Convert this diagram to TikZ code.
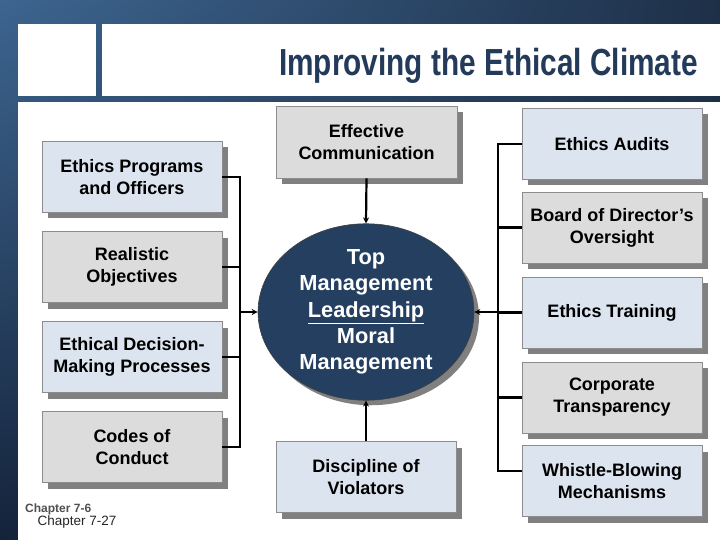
\documentclass[tikz,border=0pt]{standalone}
\usepackage{fontspec}
\setmainfont{Liberation Sans}
\usetikzlibrary{shadows,shadings,shapes.geometric,arrows.meta}
\definecolor{bgA}{HTML}{3D6590}
\definecolor{bgB}{HTML}{1E3048}
\definecolor{bgC}{HTML}{14233A}
\definecolor{titlecol}{HTML}{243A5A}
\definecolor{navy}{HTML}{243F60}
\definecolor{lightblue}{HTML}{DCE4EF}
\definecolor{lightgrey}{HTML}{DCDCDC}
\definecolor{boxborder}{HTML}{8C8C8C}
\definecolor{shadowgray}{HTML}{808080}
\definecolor{chapgray}{HTML}{505050}
\tikzset{
  boxstyle/.style={draw=boxborder, line width=0.8pt, minimum width=180pt, minimum height=71pt,
    align=center, inner sep=0pt, font=\fontsize{18}{22}\selectfont\bfseries,
    drop shadow={shadow xshift=6pt, shadow yshift=-6pt, opacity=1, fill=shadowgray}},
  bluebox/.style={boxstyle, fill=lightblue},
  greybox/.style={boxstyle, fill=lightgrey},
  conn/.style={line width=2.2pt, draw=black},
  arr/.style={-{Stealth[length=6pt,width=6pt]}}
}
\begin{document}
\begin{tikzpicture}[x=1pt,y=-1pt]
\useasboundingbox (0,0) rectangle (720,540);
\shade[upper left=bgA, upper right=bgB, lower left=bgC, lower right=bgB] (0,0) rectangle (720,540);
\fill[white] (18,24) rectangle (96,96);
\fill[white] (102,24) rectangle (720,96);
\fill[white] (18,102) rectangle (720,540);

\node[anchor=base east, inner sep=0pt, text=titlecol] (title) at (698,76)
  {\scalebox{0.79}[1]{\fontsize{37.7}{40}\selectfont\bfseries Improving the Ethical Climate}};

% left column
\node[bluebox] (l1) at (132,177) {Ethics Programs\\and Officers};
\node[greybox] (l2) at (132,267) {Realistic\\Objectives};
\node[bluebox] (l3) at (132,357) {Ethical Decision-\\Making Processes};
\node[greybox] (l4) at (132,447) {Codes of\\Conduct};

% centre column
\node[greybox, minimum width=181pt, minimum height=72pt] (eff) at (366.5,142) {Effective\\Communication};
\node[bluebox] (disc) at (366,477) {Discipline of\\Violators};
\node[ellipse, draw=black!75, line width=0.6pt, fill=navy, minimum width=216pt, minimum height=175pt,
  inner sep=0pt, text=white, align=center, font=\fontsize{21.8}{26.3}\selectfont\bfseries,
  drop shadow={shadow xshift=5pt, shadow yshift=-5pt, opacity=1, fill=shadowgray}] (ell) at (366,312)
  {Top\\Management\\\underline{Leadership}\\Moral\\Management};

% right column
\node[bluebox] (r1) at (612,144) {Ethics Audits};
\node[greybox] (r2) at (612,227.5) {Board of Director’s\\Oversight};
\node[bluebox] (r3) at (612,312.5) {Ethics Training};
\node[greybox] (r4) at (612,397.5) {Corporate\\Transparency};
\node[bluebox] (r5) at (612,481) {Whistle-Blowing\\Mechanisms};

% connectors
\coordinate (lj) at (240,312);
\coordinate (rj) at (498,312);
\foreach \n in {l1,l2,l3,l4} \draw[conn] (\n.east) -| (lj);
\draw[conn,arr] (lj) -- (ell.west);
\foreach \n in {r1,r2,r3,r4} \draw[conn] (\n.west) -| (rj);
\draw[conn] ([yshift=10pt]r5.west) -| (rj);
\draw[conn,arr] (rj) -- (ell.east);
\draw[conn,arr] (eff.south) -- (ell.north);
\draw[conn,arr] (disc.north) -- (ell.south);

% footer
\node[anchor=base west, inner sep=0pt, text=chapgray, font=\fontsize{12}{14}\selectfont\bfseries] (ch1) at (25,512) {Chapter 7-6};
\node[anchor=base west, inner sep=0pt, text=black!85, font=\fontsize{13.5}{16}\selectfont] (ch2) at (37.5,525) {Chapter 7-27};
\end{tikzpicture}
\end{document}
